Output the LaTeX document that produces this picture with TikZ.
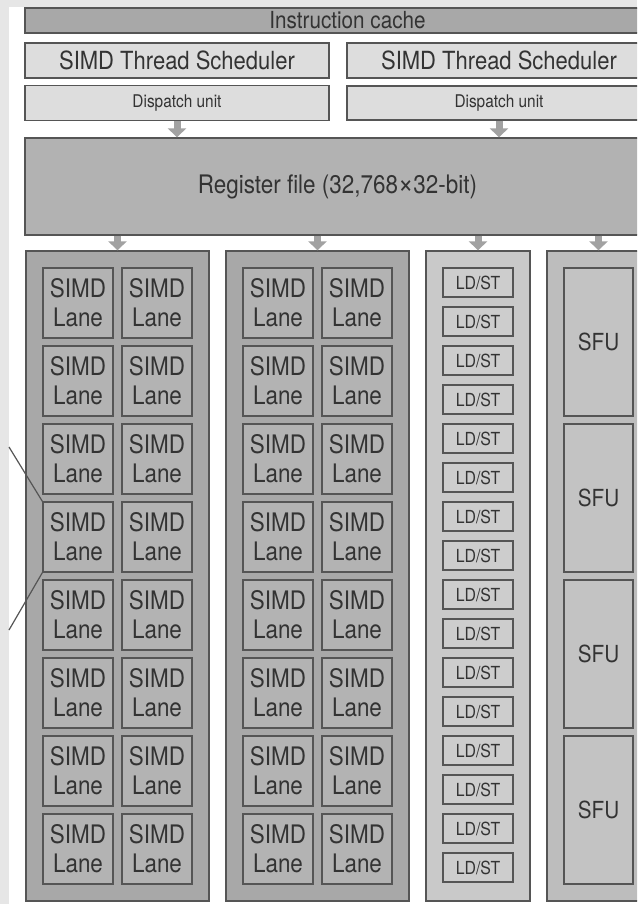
\documentclass[tikz,border=0pt]{standalone}
\usepackage{fontspec}
\setmainfont{TeX Gyre Heros}[FakeStretch=0.88]
\usetikzlibrary{arrows.meta}

\definecolor{inkgray}{HTML}{333333}
\definecolor{edgegray}{HTML}{555555}
\definecolor{darkfill}{HTML}{A8A8A8}
\definecolor{regfill}{HTML}{B2B2B2}
\definecolor{lanefill}{HTML}{B3B3B3}
\definecolor{lightfill}{HTML}{DDDDDD}
\definecolor{ldcolfill}{HTML}{C9C9C9}
\definecolor{ldfill}{HTML}{CDCDCD}
\definecolor{sfucolfill}{HTML}{BDBDBD}
\definecolor{sfufill}{HTML}{C3C3C3}
\definecolor{arrowgray}{HTML}{A2A2A2}
\definecolor{pagegray}{HTML}{E6E6E6}

\tikzset{
  unit/.style={draw=edgegray, line width=1.3pt, text=inkgray,
    inner sep=0pt, align=center},
  bar/.style={unit, fill=lightfill, minimum width=304pt},
  column/.style={unit, fill=darkfill, minimum height=650pt},
  lane/.style={unit, fill=lanefill, minimum width=70pt, minimum height=70pt,
    font=\fontsize{25.5}{29}\selectfont},
  ldst/.style={unit, fill=ldfill, minimum width=70pt, minimum height=29pt,
    font=\fontsize{18}{20}\selectfont},
  sfu/.style={unit, fill=sfufill, minimum width=69pt, minimum height=148pt,
    font=\fontsize{23.5}{26}\selectfont},
  feed/.style={arrowgray, line width=7pt, -{Triangle[width=18pt,length=9pt]}}
}

\begin{document}
\begin{tikzpicture}[x=1pt, y=-1pt]
  \useasboundingbox (0,0) rectangle (637,904);
  \clip (0,0) rectangle (637,904);
  \fill[pagegray] (0,0) rectangle (637,904);
  \fill[white] (9,7) rectangle (637,904);

  % front end
  \node[unit, fill=darkfill, minimum width=645pt, minimum height=25pt,
    font=\fontsize{23.5}{26}\selectfont] (icache) at (347.5,20.5) {Instruction cache};
  \node[bar, minimum height=35pt, font=\fontsize{25}{28}\selectfont]
    (sched1) at (177,60.5) {SIMD Thread Scheduler};
  \node[bar, minimum height=35pt, font=\fontsize{17.5}{20}\selectfont]
    (disp1) at (177,103) {Dispatch unit};
  \node[bar, minimum height=35pt, font=\fontsize{25}{28}\selectfont]
    (sched2) at (499,60.5) {SIMD Thread Scheduler};
  \node[bar, minimum height=34pt, font=\fontsize{17.5}{20}\selectfont]
    (disp2) at (499,103) {Dispatch unit};
  \node[unit, fill=regfill, minimum width=625pt, minimum height=97pt,
    font=\fontsize{25.5}{28}\selectfont] (reg) at (337.5,186.5)
    {Register file (32,768{\fontsize{30}{28}\selectfont ×}32-bit)};

  % execution columns
  \node[column, minimum width=183pt] (simdA) at (117.5,576) {};
  \node[column, minimum width=183pt] (simdB) at (317.5,576) {};
  \node[column, fill=ldcolfill, minimum width=104pt] (ldcol) at (478,576) {};
  \node[column, fill=sfucolfill, minimum width=103pt] (sfucol) at (598.5,576) {};

  \foreach \r in {1,...,8} {
    \pgfmathsetmacro{\Y}{303+78*(\r-1)}
    \foreach \x [count=\i] in {78,157,278,357} {
      \node[lane] (lane-\i-\r) at (\x,\Y) {SIMD\\Lane};
    }
  }
  \foreach \k in {1,...,16} {
    \pgfmathsetmacro{\Y}{282.5+39*(\k-1)}
    \node[ldst] (ld-\k) at (478,\Y) {LD/ST};
  }
  \foreach \k in {1,...,4} {
    \pgfmathsetmacro{\Y}{342+156*(\k-1)}
    \node[sfu] (sfu-\k) at (598.5,\Y) {SFU};
  }

  % arrows
  \draw[feed] (disp1.south) -- (disp1.south |- reg.north);
  \draw[feed] (disp2.south) -- (disp2.south |- reg.north);
  \foreach \n in {simdA,simdB,ldcol,sfucol}
    \draw[feed] (reg.south -| \n.north) -- (\n.north);

  % callout to one lane
  \coordinate (cutA) at (9,447);
  \coordinate (cutB) at (9,630);
  \draw[edgegray, line width=1.2pt] (cutA) -- (lane-1-4.north west);
  \draw[edgegray, line width=1.2pt] (lane-1-4.south west) -- (cutB);
\end{tikzpicture}
\end{document}
